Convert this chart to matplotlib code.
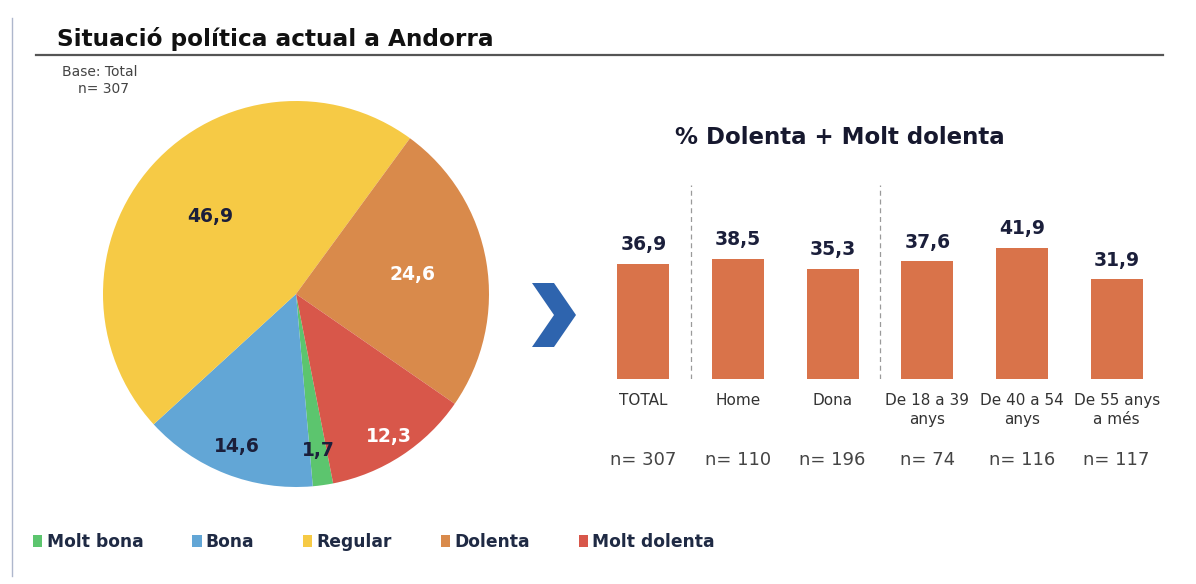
"""Situació política actual a Andorra: pie + bar panel, saved as out.png."""

import matplotlib

matplotlib.use("Agg")

import matplotlib.pyplot as plt  # noqa: E402
import numpy as np  # noqa: E402
from matplotlib.lines import Line2D  # noqa: E402
from matplotlib.patches import Patch, Polygon  # noqa: E402

W, H = 1196, 584
NAVY = "#1B1F3B"
GREY = "#444444"

# --- data -------------------------------------------------------------
pie_labels = ["Molt bona", "Bona", "Regular", "Dolenta", "Molt dolenta"]
pie_values = [1.7, 14.6, 46.9, 24.6, 12.3]
pie_colors = ["#5CC56E", "#62A6D6", "#F6CA45", "#D98A4B", "#D8574A"]
pie_text_colors = [NAVY, NAVY, NAVY, "white", "white"]
pie_label_r = [0.82, 0.85, 0.60, 0.61, 0.88]

bar_categories = ["TOTAL", "Home", "Dona", "De 18 a 39\nanys",
                  "De 40 a 54\nanys", "De 55 anys\na més"]
bar_values = [36.9, 38.5, 35.3, 37.6, 41.9, 31.9]
bar_n = [307, 110, 196, 74, 116, 117]
BAR_COLOR = "#D9734A"


def fmt(v):
    return f"{v:.1f}".replace(".", ",")


def px(x, y):
    """pixel (from top-left) -> figure fraction"""
    return x / W, 1 - y / H


fig = plt.figure(figsize=(W / 100, H / 100), dpi=100)
fig.patch.set_facecolor("white")

# --- header -----------------------------------------------------------
fig.text(*px(57, 39), "Situació política actual a Andorra", fontsize=16.7,
         fontweight="bold", color="#111111", va="center", ha="left")
fig.add_artist(Line2D([36 / W, 1163 / W], [1 - 55 / H] * 2, color="#555555", lw=1.6))
fig.add_artist(Line2D([12 / W] * 2, [1 - 18 / H, 1 - 576 / H], color="#AEB7CC", lw=1))
fig.text(*px(62, 72), "Base: Total", fontsize=10, color=GREY, va="center")
fig.text(*px(78, 89), "n= 307", fontsize=10, color=GREY, va="center")

# --- pie --------------------------------------------------------------
cx, cy, r = 296, 294, 193
pax = fig.add_axes([(cx - r) / W, (H - cy - r) / H, 2 * r / W, 2 * r / H])
wedges, _ = pax.pie(pie_values, colors=pie_colors, startangle=-78.9,
                    counterclock=False, wedgeprops=dict(linewidth=0))
for w, v, rr, tc in zip(wedges, pie_values, pie_label_r, pie_text_colors):
    ang = np.deg2rad((w.theta1 + w.theta2) / 2)
    pax.text(rr * np.cos(ang), rr * np.sin(ang), fmt(v), ha="center", va="center",
             fontsize=13.5, fontweight="bold", color=tc)
pax.set_xlim(-1, 1)
pax.set_ylim(-1, 1)
pax.set_aspect("equal")

# chevron arrow
chev = [(532, 283), (554, 283), (576, 315), (554, 347), (532, 347), (554, 315)]
fig.add_artist(Polygon([px(x, y) for x, y in chev], closed=True,
                       transform=fig.transFigure, facecolor="#2E64AE", edgecolor="none"))

# --- bars -------------------------------------------------------------
fig.text(*px(840, 137), "% Dolenta + Molt dolenta", fontsize=16.5,
         fontweight="bold", color="#16182E", ha="center", va="center")

bx = fig.add_axes([596 / W, (H - 379) / H, 568 / W, 204 / H])
x = np.arange(len(bar_values))
bars = bx.bar(x, bar_values, width=0.55, color=BAR_COLOR)
bx.bar_label(bars, labels=[fmt(v) for v in bar_values], padding=7,
             fontsize=13.5, fontweight="bold", color=NAVY)
bx.vlines([0.5, 2.5], 0, 62, colors="#9A9A9A", linestyles=(0, (4, 3)), lw=0.9)
bx.set_xlim(-0.5, 5.5)
bx.set_ylim(0, 204 / 3.125)
bx.set_xticks(x)
bx.set_xticklabels(bar_categories, fontsize=11, color="#333333", linespacing=1.35)
bx.tick_params(axis="x", length=0, pad=10)
bx.set_yticks([])
for s in bx.spines.values():
    s.set_visible(False)
for i, n in enumerate(bar_n):
    bx.annotate(f"n= {n}", xy=(i, 0), xytext=(0, -58), textcoords="offset points",
                ha="center", va="center", fontsize=13, color=GREY)

# --- legend -----------------------------------------------------------
handles = [Patch(facecolor=c, edgecolor="none", label=l)
           for l, c in zip(pie_labels, pie_colors)]
fig.legend(handles=handles, loc="center left", bbox_to_anchor=px(33, 542), ncol=5,
           frameon=False, handlelength=0.55, handleheight=0.65, handletextpad=0.25,
           columnspacing=2.85, borderpad=0, borderaxespad=0,
           prop=dict(weight="bold", size=12.3), labelcolor="#1F2A44")

fig.savefig("out.png", dpi=100, facecolor="white")
